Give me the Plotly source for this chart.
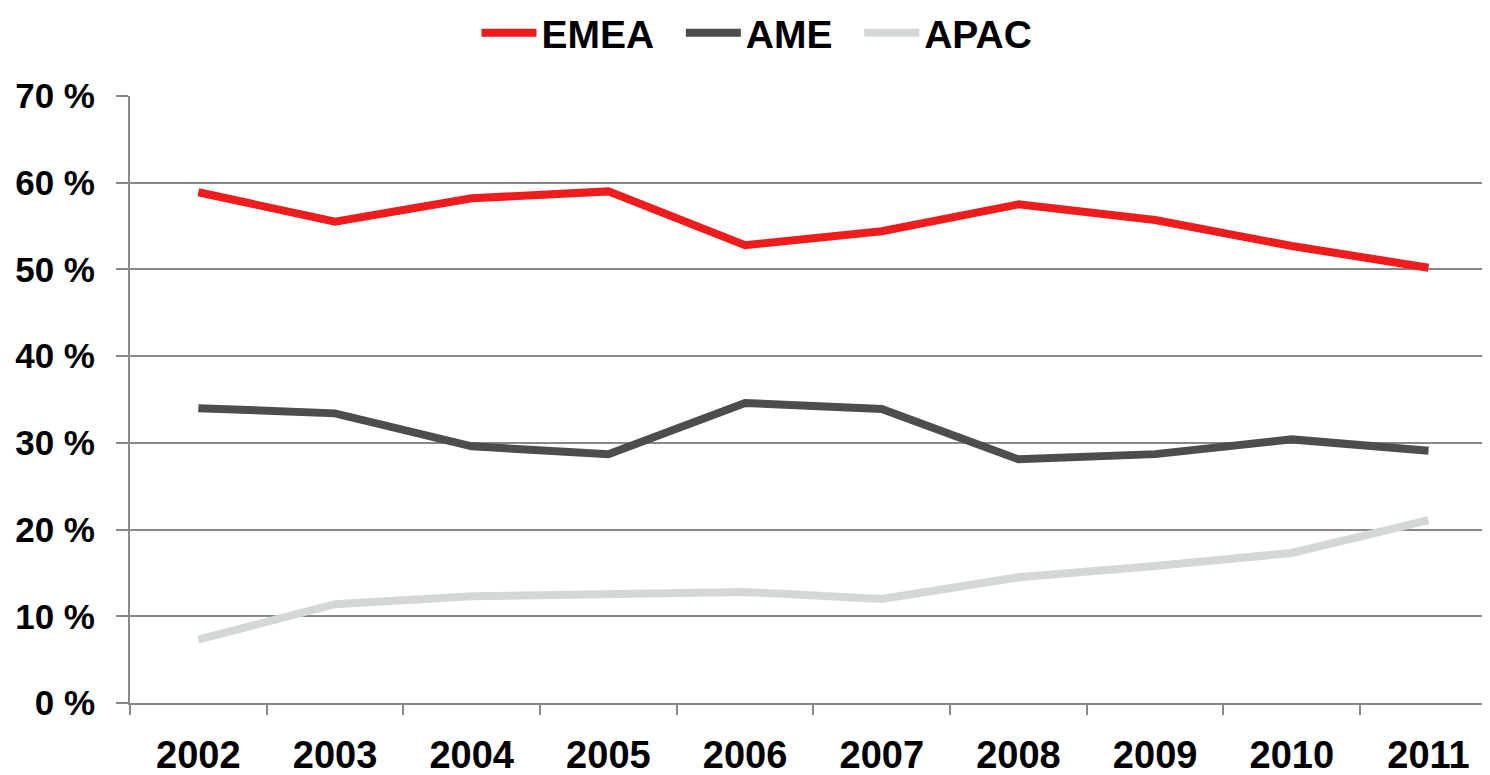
import plotly.graph_objects as go

years = ["2002", "2003", "2004", "2005", "2006", "2007", "2008", "2009", "2010", "2011"]
emea = [58.9, 55.5, 58.2, 59.0, 52.8, 54.4, 57.5, 55.7, 52.7, 50.2]
ame = [34.0, 33.4, 29.6, 28.7, 34.6, 33.9, 28.1, 28.7, 30.4, 29.1]
apac = [7.3, 11.4, 12.3, 12.5, 12.8, 12.0, 14.5, 15.8, 17.3, 21.1]

series = [("EMEA\u00a0\u00a0", emea, "#EE1C1C"), ("AME\u00a0\u00a0", ame, "#4D4D4D"), ("APAC", apac, "#D3D8D6")]

fig = go.Figure()
for name, vals, col in series:
    fig.add_trace(go.Scatter(x=years, y=vals, name=name, mode="lines",
                             line=dict(color=col, width=8)))

font_family = "Liberation Sans, Arial, sans-serif"
fig.update_layout(
    width=1482, height=767,
    margin=dict(l=122, r=0, t=88, b=72, autoexpand=False),
    paper_bgcolor="white", plot_bgcolor="white",
    font=dict(family=font_family, color="black"),
    showlegend=True,
    legend=dict(orientation="h", x=0.5054, xref="container", xanchor="center",
                y=1.104, yref="paper",
                yanchor="middle", font=dict(size=39, family=font_family, weight="bold"),
                itemwidth=55, tracegroupgap=0),
    xaxis=dict(type="category", range=[-0.5, 9.45], tickson="boundaries",
               ticks="outside", ticklen=10, tickcolor="#898989", tickwidth=2,
               showline=True, linecolor="#898989", linewidth=2,
               showgrid=False, ticklabelstandoff=17, automargin=False,
               tickfont=dict(size=38, family=font_family, weight="bold")),
    yaxis=dict(range=[0, 70], dtick=10, ticksuffix=" %",
               ticks="outside", ticklen=12, tickcolor="#898989", tickwidth=2,
               showline=True, linecolor="#898989", linewidth=2,
               showgrid=True, gridcolor="#898989", gridwidth=2,
               zeroline=False, ticklabelstandoff=14, automargin=False,
               tickfont=dict(size=35, family=font_family, weight="bold")),
)

fig.write_html("out.html")
